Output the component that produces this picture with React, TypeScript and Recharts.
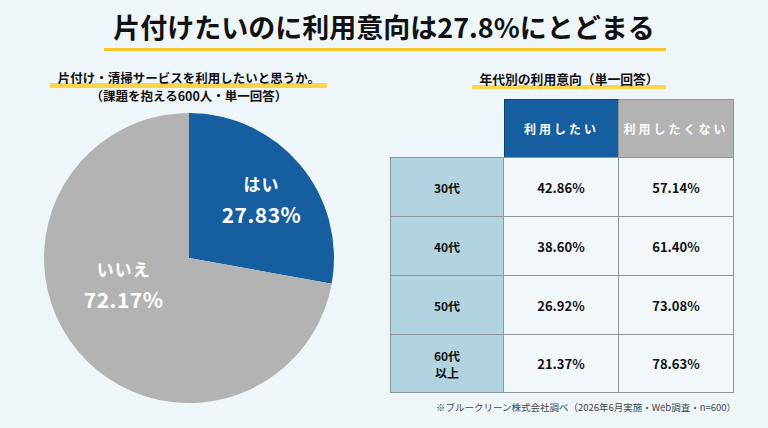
import React from 'react';
import { PieChart, Pie, Cell } from 'recharts';

// overall answer split
const answerLabels = ['はい', 'いいえ'];
const answerShares = [27.83, 72.17];

// intention by age group
const ageGroups = ['30代', '40代', '50代', '60代\n以上'];
const wantShares = [42.86, 38.6, 26.92, 21.37];
const dontWantShares = [57.14, 61.4, 73.08, 78.63];
const columnHeads = ['利用したい', '利用したくない'];

const BG = '#EFF6FA';
const BLUE = '#155E9F';
const GRAY = '#B3B3B3';
const YELLOW = '#F7C52B';
const FONT = '"Noto Sans CJK JP", "Noto Sans", sans-serif';

const pieData = answerLabels.map((name, i) => ({ name, value: answerShares[i] }));

// where each slice's caption sits: angle in degrees, distance from centre in px
const captionSpots = [
  { angle: 39.5, dist: 94 },
  { angle: 201, dist: 70 },
];

const renderCaption = (props: any) => {
  const { cx, cy, index, name, value } = props;
  const spot = captionSpots[index];
  const rad = (spot.angle * Math.PI) / 180;
  const x = cx + spot.dist * Math.cos(rad);
  const y = cy - spot.dist * Math.sin(rad);
  return (
    <g>
      <text x={x} y={y - 15} fill="#fff" fontSize={17} fontWeight={700} fontFamily={FONT}
        textAnchor="middle" dominantBaseline="central" letterSpacing={1}>
        {name}
      </text>
      <text x={x} y={y + 16} fill="#fff" fontSize={21} fontWeight={700} fontFamily={FONT}
        textAnchor="middle" dominantBaseline="central" letterSpacing={0.5}>
        {value.toFixed(2)}%
      </text>
    </g>
  );
};

const border = '1px solid #8C9598';

export default function App() {
  return (
    <div style={{ position: 'absolute', left: 0, top: 0, width: 768, height: 428, background: BG, fontFamily: FONT, overflow: 'hidden' }}>
      {/* headline */}
      <div style={{ position: 'absolute', left: 0, top: 8, width: 768, textAlign: 'center', fontSize: 27, fontWeight: 700, color: '#111', lineHeight: '38px' }}>
        片付けたいのに利用意向は27.8%にとどまる
      </div>
      <div style={{ position: 'absolute', left: 104, top: 48, width: 562, height: 3, background: YELLOW }} />

      {/* pie caption */}
      <div style={{ position: 'absolute', left: 50, top: 83, width: 277, height: 5, background: '#FAD54A' }} />
      <div style={{ position: 'absolute', left: 39, top: 69, width: 300, textAlign: 'center', fontSize: 12.5, fontWeight: 700, color: '#111', lineHeight: '18px' }}>
        片付け・清掃サービスを利用したいと思うか。<br />（課題を抱える600人・単一回答）
      </div>

      <div style={{ position: 'absolute', left: 39, top: 108 }}>
        <PieChart width={300} height={300} margin={{ top: 0, right: 0, bottom: 0, left: 0 }}>
          <Pie
            data={pieData}
            dataKey="value"
            nameKey="name"
            cx={150}
            cy={150}
            outerRadius={145}
            startAngle={90}
            endAngle={-270}
            stroke="none"
            label={renderCaption}
            labelLine={false}
            isAnimationActive={false}
          >
            {pieData.map((d, i) => (
              <Cell key={d.name} fill={i === 0 ? BLUE : GRAY} />
            ))}
          </Pie>
        </PieChart>
      </div>

      {/* table caption */}
      <div style={{ position: 'absolute', left: 472, top: 85, width: 194, height: 4, background: '#FAD54A' }} />
      <div style={{ position: 'absolute', left: 420, top: 70, width: 298, textAlign: 'center', fontSize: 12.8, fontWeight: 700, color: '#111', lineHeight: '18px' }}>
        年代別の利用意向（単一回答）
      </div>

      {/* age table */}
      <div style={{ position: 'absolute', left: 390, top: 99, display: 'grid', gridTemplateColumns: '114px 115px 115px', gridTemplateRows: '58px 59px 59px 59px 59px' }}>
        <div />
        {columnHeads.map((h, i) => (
          <div key={h} style={{
            background: i === 0 ? BLUE : GRAY, color: '#fff', fontSize: 12, fontWeight: 700, letterSpacing: 3,
            display: 'flex', alignItems: 'center', justifyContent: 'center',
            borderTop: border, borderRight: border, borderLeft: i === 0 ? border : 'none',
            borderTopColor: i === 0 ? '#0F3F6B' : '#8C9598', borderLeftColor: '#0F3F6B',
          }}>{h}</div>
        ))}
        {ageGroups.map((g, r) => (
          <React.Fragment key={g}>
            <div style={{
              background: '#B2D4E0', color: '#111', fontSize: 12, fontWeight: 700, lineHeight: '17px',
              display: 'flex', alignItems: 'center', justifyContent: 'center', textAlign: 'center', whiteSpace: 'pre-line',
              borderTop: border, borderLeft: border, borderRight: border, borderBottom: r === ageGroups.length - 1 ? border : 'none',
            }}>{g}</div>
            {[wantShares[r], dontWantShares[r]].map((v, c) => (
              <div key={c} style={{
                background: '#F1F7FA', color: '#111', fontSize: 13, fontWeight: 700,
                display: 'flex', alignItems: 'center', justifyContent: 'center',
                borderTop: border, borderRight: border, borderBottom: r === ageGroups.length - 1 ? border : 'none',
              }}>{v.toFixed(2)}%</div>
            ))}
          </React.Fragment>
        ))}
      </div>

      <div style={{ position: 'absolute', left: 386, top: 400, width: 400, textAlign: 'center', fontSize: 9.5, color: '#444', lineHeight: '14px' }}>
        ※ブルークリーン株式会社調べ（2026年6月実施・Web調査・n=600）
      </div>
    </div>
  );
}
